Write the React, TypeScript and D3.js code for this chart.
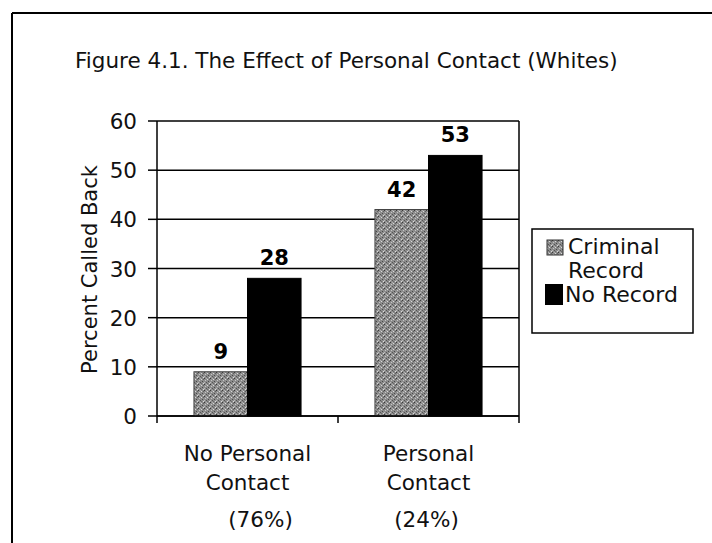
import React from "react";
import * as d3 from "d3";

const title = "Figure 4.1. The Effect of Personal Contact (Whites)";
const yAxisTitle = "Percent Called Back";
const categoryLine1 = ["No Personal", "Personal"];
const categoryLine2 = ["Contact", "Contact"];
const categoryShare = ["(76%)", "(24%)"];
const categories = ["No Personal Contact", "Personal Contact"];
const seriesNames = ["Criminal Record", "No Record"];
const criminalRecord = [9, 42];
const noRecord = [28, 53];
const yTicks = [0, 10, 20, 30, 40, 50, 60];

const W = 712;
const H = 543;
const FONT = "'DejaVu Sans', Verdana, sans-serif";
const plot = { left: 157, right: 519, top: 121, bottom: 416 };
const shareDx = [13, -2];

export default function App() {
  const x = d3.scaleBand<string>().domain(categories).range([plot.left, plot.right]).padding(0);
  const xs = d3
    .scaleBand<string>()
    .domain(seriesNames)
    .range([0, x.bandwidth()])
    .paddingInner(0)
    .paddingOuter(0.69);
  const y = d3.scaleLinear().domain([0, 60]).range([plot.bottom, plot.top]);
  const values = [criminalRecord, noRecord];
  const fills = ["url(#grayTex)", "#000"];

  return (
    <svg width={W} height={H} style={{ position: "absolute", left: 0, top: 0, background: "#fff" }}>
      <defs>
        <pattern id="grayTex" width="6" height="6" patternUnits="userSpaceOnUse">
          <rect width="6" height="6" fill="#8c8c8c" />
          <rect x="0" y="0" width="1" height="1" fill="#3a3a3a" />
          <rect x="3" y="1" width="1" height="1" fill="#d8d8d8" />
          <rect x="1" y="2" width="1" height="1" fill="#c4c4c4" />
          <rect x="4" y="3" width="1" height="1" fill="#4a4a4a" />
          <rect x="2" y="4" width="1" height="1" fill="#555" />
          <rect x="5" y="5" width="1" height="1" fill="#dcdcdc" />
          <rect x="0" y="4" width="1" height="1" fill="#bdbdbd" />
          <rect x="5" y="1" width="1" height="1" fill="#606060" />
          <rect x="3" y="5" width="1" height="1" fill="#6a6a6a" />
          <rect x="2" y="0" width="1" height="1" fill="#b0b0b0" />
        </pattern>
      </defs>

      {/* outer frame */}
      <line x1={12} y1={13} x2={W} y2={13} stroke="#000" strokeWidth={2} />
      <line x1={12} y1={13} x2={12} y2={H} stroke="#000" strokeWidth={2} />

      <text x={75} y={68} fontFamily={FONT} fontSize={21.5} fill="#111">
        {title}
      </text>

      {/* gridlines */}
      {yTicks.map((t) => (
        <line key={"g" + t} x1={plot.left} x2={plot.right} y1={y(t)} y2={y(t)} stroke="#000" strokeWidth={1.5} />
      ))}
      <line x1={plot.right} x2={plot.right} y1={y(60)} y2={y(0)} stroke="#000" strokeWidth={1.5} />

      {/* bars */}
      {categories.map((c, ci) =>
        seriesNames.map((s, si) => {
          const bx = (x(c) as number) + (xs(s) as number);
          const v = values[si][ci];
          return (
            <g key={c + s}>
              <rect
                x={bx}
                y={y(v)}
                width={xs.bandwidth()}
                height={y(0) - y(v)}
                fill={fills[si]}
                stroke={si === 0 ? "#444" : "#000"}
                strokeWidth={1}
              />
              <text
                x={bx + xs.bandwidth() / 2}
                y={y(v) - 13}
                textAnchor="middle"
                fontFamily={FONT}
                fontWeight="bold"
                fontSize={21}
                fill="#000"
              >
                {v}
              </text>
            </g>
          );
        })
      )}

      {/* y axis */}
      <line x1={plot.left} x2={plot.left} y1={y(60)} y2={y(0) + 7} stroke="#000" strokeWidth={1.5} />
      {yTicks.map((t) => (
        <g key={"t" + t}>
          <line x1={plot.left - 9} x2={plot.left} y1={y(t)} y2={y(t)} stroke="#000" strokeWidth={1.5} />
          <text x={137} y={y(t) + 8} textAnchor="end" fontFamily={FONT} fontSize={21.5} fill="#111">
            {t}
          </text>
        </g>
      ))}
      <text
        transform={`translate(97,${(y(0) + y(60)) / 2 + 1}) rotate(-90)`}
        textAnchor="middle"
        fontFamily={FONT}
        fontSize={21}
        fill="#111"
      >
        {yAxisTitle}
      </text>

      {/* x axis */}
      <line x1={plot.left} x2={plot.right} y1={y(0)} y2={y(0)} stroke="#000" strokeWidth={1.5} />
      {categories.map((c) => (
        <line
          key={"xt" + c}
          x1={(x(c) as number) + x.bandwidth()}
          x2={(x(c) as number) + x.bandwidth()}
          y1={y(0)}
          y2={y(0) + 7}
          stroke="#000"
          strokeWidth={1.5}
        />
      ))}
      {categories.map((c, ci) => {
        const cx = (x(c) as number) + x.bandwidth() / 2;
        return (
          <g key={"xl" + c} fontFamily={FONT} fontSize={21.5} fill="#111" textAnchor="middle">
            <text x={cx} y={461}>{categoryLine1[ci]}</text>
            <text x={cx} y={490}>{categoryLine2[ci]}</text>
            <text x={cx + shareDx[ci]} y={527}>{categoryShare[ci]}</text>
          </g>
        );
      })}

      {/* legend */}
      <rect x={532} y={229} width={161} height={104} fill="#fff" stroke="#000" strokeWidth={1.5} />
      <rect x={547} y={240} width={16} height={15} fill="url(#grayTex)" stroke="#333" strokeWidth={1} />
      <text x={568} y={254} fontFamily={FONT} fontSize={22} fill="#111">Criminal</text>
      <text x={568} y={278} fontFamily={FONT} fontSize={22} fill="#111">Record</text>
      <rect x={545} y={284} width={18} height={21} fill="#000" />
      <text x={565} y={302} fontFamily={FONT} fontSize={22} fill="#111">No Record</text>
    </svg>
  );
}
